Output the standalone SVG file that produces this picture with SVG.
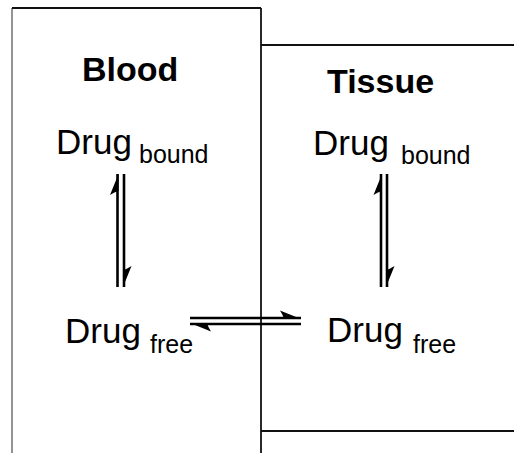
<svg xmlns="http://www.w3.org/2000/svg" width="514" height="453" viewBox="0 0 514 453">
  <style>
    .edge { stroke: #111; stroke-width: 1.8; fill: none; }
    .title { font-family: "Liberation Sans", Arial, sans-serif; font-weight: bold; font-size: 34px; fill: #000; }
    .drug { font-family: "Liberation Sans", Arial, sans-serif; font-size: 35px; fill: #000; }
    .sub { font-family: "Liberation Sans", Arial, sans-serif; font-size: 25px; fill: #000; }
    .arrow { stroke: #000; stroke-width: 2.6; fill: none; marker-end: url(#harpoon); }
  </style>
  <defs>
    <marker id="harpoon" markerUnits="userSpaceOnUse" viewBox="-24 -10 26 12" refX="0" refY="0" markerWidth="26" markerHeight="12" orient="auto">
      <path d="M0,1 L-21,-7.5 Q-18,-3 -17,1 Z" fill="#000"/>
    </marker>
  </defs>
  <rect width="514" height="453" fill="#fff"/>

  <g id="blood">
    <line x1="12" y1="8" x2="12" y2="453" stroke="#888" stroke-width="1.8"/>
    <line class="edge" x1="12" y1="8" x2="261" y2="8"/>
    <line class="edge" x1="261" y1="8" x2="261" y2="453"/>
    <text class="title" x="82" y="81">Blood</text>
  </g>

  <g id="tissue">
    <line class="edge" x1="261" y1="45" x2="514" y2="45"/>
    <line class="edge" x1="261" y1="431" x2="514" y2="431"/>
    <text class="title" x="327" y="93">Tissue</text>
  </g>

  <g id="blood-bound">
    <text class="drug" x="56" y="154">Drug</text>
    <text class="sub" x="139" y="163">bound</text>
  </g>

  <g id="blood-free">
    <text class="drug" x="65" y="343">Drug</text>
    <text class="sub" x="150" y="353">free</text>
  </g>

  <g id="tissue-bound">
    <text class="drug" x="313" y="155">Drug</text>
    <text class="sub" x="401" y="164">bound</text>
  </g>

  <g id="tissue-free">
    <text class="drug" x="327" y="342">Drug</text>
    <text class="sub" x="413" y="353">free</text>
  </g>

  <g id="connectors">
    <line class="arrow" x1="117.5" y1="287" x2="117.5" y2="174"/>
    <line class="arrow" x1="124" y1="174" x2="124" y2="287"/>
    <line class="arrow" x1="381" y1="287" x2="381" y2="174"/>
    <line class="arrow" x1="387" y1="174" x2="387" y2="287"/>
    <line class="arrow" x1="190" y1="318" x2="301" y2="318"/>
    <line class="arrow" x1="301" y1="324" x2="190" y2="324"/>
  </g>
</svg>
